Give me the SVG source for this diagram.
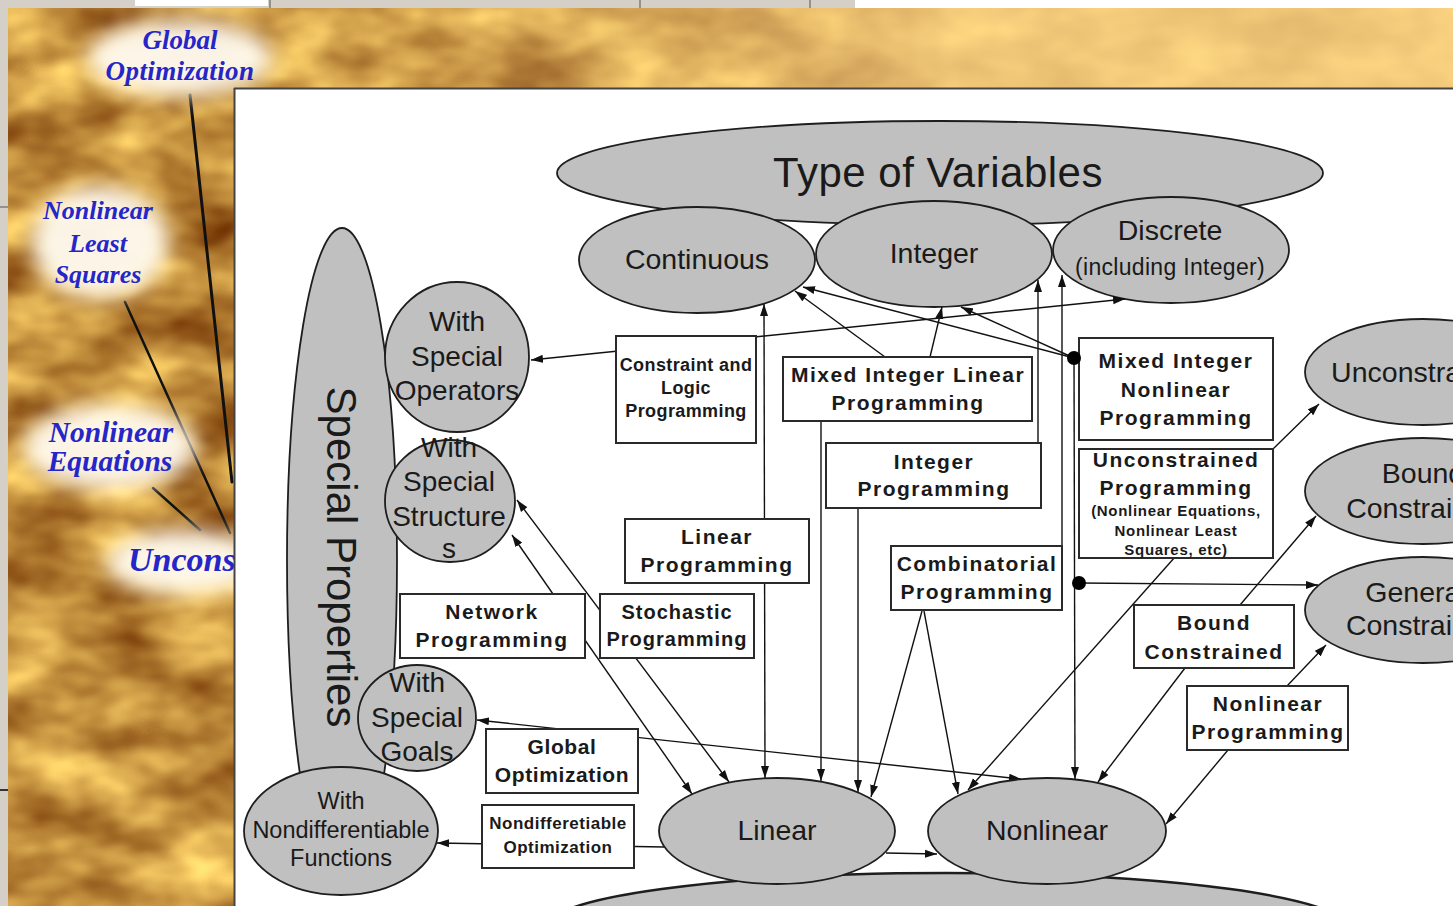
<svg xmlns="http://www.w3.org/2000/svg" width="1453" height="906" viewBox="0 0 1453 906">
<defs>
<style>
.el{fill:#c0c0c0;stroke:#1e1e1e;stroke-width:1.8}
.bx{fill:#ffffff;stroke:#2a2a2a;stroke-width:2}
.t{font-family:"Liberation Sans",Arial,sans-serif;fill:#1a1a1a;text-anchor:middle}
.e28{font-size:28.5px}
.b{font-family:"Liberation Sans",Arial,sans-serif;font-weight:bold;fill:#1a1a1a;text-anchor:middle}
.b21{font-size:21px;letter-spacing:1.5px}
.c{stroke:#111;stroke-width:1.4;fill:none}
.lbl{font-family:"Liberation Serif","Times New Roman",serif;font-style:italic;font-weight:bold;fill:#2626c8}
.pen{stroke:#111;fill:none;stroke-linecap:round}
</style>
<marker id="ah" markerUnits="userSpaceOnUse" markerWidth="13" markerHeight="9" refX="12" refY="4.5" orient="auto-start-reverse" viewBox="0 0 13 9"><path d="M0,0.5 L12,4.5 L0,8.5 z" fill="#111"/></marker>
<filter id="tex" x="0" y="0" width="100%" height="100%" color-interpolation-filters="sRGB">
<feTurbulence type="fractalNoise" baseFrequency="0.012 0.02" numOctaves="3" seed="11" result="n"/>
<feColorMatrix in="n" type="matrix" values="0.75 0 0 0 0.39  0.85 0 0 0 0.14  0.55 0 0 0 -0.03  0 0 0 0 1"/>
</filter>
<filter id="blur" x="-50%" y="-50%" width="200%" height="200%"><feGaussianBlur stdDeviation="10"/></filter>
<linearGradient id="band" x1="0" y1="0" x2="1" y2="0">
<stop offset="0" stop-color="#ffd98a" stop-opacity="0"/>
<stop offset="0.28" stop-color="#ffd98a" stop-opacity="0.1"/>
<stop offset="0.5" stop-color="#ffd98a" stop-opacity="0.45"/>
<stop offset="0.65" stop-color="#ffd98a" stop-opacity="0.75"/>
<stop offset="1" stop-color="#ffd98a" stop-opacity="0.8"/>
</linearGradient>
</defs>

<g id="background">
<rect x="0" y="0" width="1453" height="906" fill="#d4d0c8"/>
<rect x="855" y="0" width="598" height="8" fill="#ffffff"/>
<rect x="135" y="0" width="133" height="6" fill="#ffffff"/>
<line x1="270" y1="0" x2="270" y2="8" stroke="#555" stroke-width="1"/>
<line x1="640" y1="0" x2="640" y2="8" stroke="#555" stroke-width="1"/>
<line x1="810" y1="0" x2="810" y2="8" stroke="#555" stroke-width="1"/>
<line x1="0" y1="207" x2="8" y2="207" stroke="#555" stroke-width="1"/>
<line x1="0" y1="790" x2="8" y2="790" stroke="#333" stroke-width="2"/>
<rect x="8" y="8" width="1445" height="898" filter="url(#tex)"/>
<rect x="8" y="8" width="1445" height="82" fill="url(#band)"/>
<line x1="190" y1="95" x2="232" y2="482" class="pen" stroke-width="3"/>
<line x1="125" y1="302" x2="230" y2="533" class="pen" stroke-width="2.5"/>
<line x1="153" y1="488" x2="200" y2="530" class="pen" stroke-width="2.5"/>
<g filter="url(#blur)" fill="#fffaf0" opacity="0.95">
<ellipse cx="180" cy="58" rx="92" ry="38"/>
<ellipse cx="100" cy="242" rx="68" ry="56"/>
<ellipse cx="110" cy="447" rx="86" ry="42"/>
<ellipse cx="184" cy="562" rx="78" ry="32"/>
</g>
<text class="lbl" style="font-size:27px;text-anchor:middle" x="180" y="49">Global</text>
<text class="lbl" style="font-size:27px;text-anchor:middle;letter-spacing:0.4px" x="180" y="80">Optimization</text>
<text class="lbl" style="font-size:26px;text-anchor:middle" x="98" y="219">Nonlinear</text>
<text class="lbl" style="font-size:26px;text-anchor:middle" x="98" y="252">Least</text>
<text class="lbl" style="font-size:26px;text-anchor:middle" x="98" y="283">Squares</text>
<text class="lbl" style="font-size:29.5px;text-anchor:middle" x="111" y="442">Nonlinear</text>
<text class="lbl" style="font-size:29.5px;text-anchor:middle" x="110" y="471">Equations</text>
<text class="lbl" style="font-size:34px;text-anchor:start" x="128" y="571">Uncons</text>
</g>

<g id="panel">
<rect x="234" y="88" width="1219" height="818" fill="#ffffff"/>
<line x1="234" y1="88.5" x2="1453" y2="88.5" stroke="#444" stroke-width="2"/>
<line x1="234.5" y1="88" x2="234.5" y2="906" stroke="#444" stroke-width="2"/>
</g>

<g id="type-of-variables">
<ellipse class="el" cx="940" cy="173" rx="383" ry="52" stroke-width="2.5"/>
<text class="t" x="938" y="187" style="font-size:42px;letter-spacing:0.5px">Type of Variables</text>
</g>
<g id="bottom-ellipse">
<ellipse class="el" cx="946" cy="928" rx="402" ry="55" style="stroke-width:2.5"/>
</g>
<g id="special-properties">
<ellipse class="el" cx="342" cy="560" rx="55" ry="332"/>
<text class="t" transform="translate(327,557) rotate(90)" style="font-size:42px">Special Properties</text>
</g>
<g id="continuous">
<ellipse class="el" cx="697" cy="260" rx="118" ry="53"/>
<text class="t e28" x="697" y="269">Continuous</text>
</g>
<g id="integer">
<ellipse class="el" cx="934" cy="254" rx="118" ry="53"/>
<text class="t e28" x="934" y="263">Integer</text>
</g>
<g id="discrete">
<ellipse class="el" cx="1171" cy="250" rx="118" ry="53"/>
<text class="t e28" x="1170" y="240">Discrete</text>
<text class="t" x="1170" y="275" style="font-size:23px;letter-spacing:0.3px">(including Integer)</text>
</g>

<g id="connectors" class="c">
<path d="M531,360 L1125,299" marker-start="url(#ah)" marker-end="url(#ah)"/>
<path d="M764,304 L765,778" marker-start="url(#ah)" marker-end="url(#ah)"/>
<path d="M885,357 L795,291" marker-end="url(#ah)"/>
<path d="M930,357 L942,307" marker-end="url(#ah)"/>
<path d="M821,421 L821,781" marker-end="url(#ah)"/>
<path d="M1074,358 L803,287" marker-end="url(#ah)"/>
<path d="M1074,358 L961,307" marker-end="url(#ah)"/>
<path d="M1038,443 L1038,280" marker-end="url(#ah)"/>
<path d="M858,508 L858,792" marker-end="url(#ah)"/>
<path d="M1062,546 L1062,275" marker-end="url(#ah)"/>
<path d="M922,611 L871,797" marker-end="url(#ah)"/>
<path d="M924,611 L958,794" marker-end="url(#ah)"/>
<path d="M1074,358 L1075,779" marker-end="url(#ah)"/>
<path d="M1079,583 L1318,585" marker-end="url(#ah)"/>
<path d="M1273,449 L1319,404" marker-end="url(#ah)"/>
<path d="M1175,557 L968,790" marker-end="url(#ah)"/>
<path d="M1240,605 L1316,516" marker-end="url(#ah)"/>
<path d="M1185,668 L1098,782" marker-end="url(#ah)"/>
<path d="M1287,686 L1326,645" marker-end="url(#ah)"/>
<path d="M1228,750 L1166,824" marker-end="url(#ah)"/>
<path d="M512,535 L692,794" marker-start="url(#ah)" marker-end="url(#ah)"/>
<path d="M517,500 L729,782" marker-start="url(#ah)" marker-end="url(#ah)"/>
<path d="M477,720 L1021,779" marker-start="url(#ah)" marker-end="url(#ah)"/>
<path d="M664,847 L437,843" marker-end="url(#ah)"/>
<path d="M886,853 L937,854" marker-end="url(#ah)"/>
</g>

<g id="with-special-operators">
<ellipse class="el" cx="457" cy="357" rx="72" ry="75"/>
</g>
<g id="with-special-structures">
<ellipse class="el" cx="450" cy="501" rx="65" ry="61"/>
</g>
<g id="with-special-operators-text">
<text class="t" style="font-size:28px" x="457" y="331">With</text>
<text class="t" style="font-size:28px" x="457" y="366">Special</text>
<text class="t" style="font-size:28px" x="457" y="400">Operators</text>
</g>
<g id="with-special-structures-text">
<text class="t" style="font-size:28px" x="449" y="457">With</text>
<text class="t" style="font-size:28px" x="449" y="491">Special</text>
<text class="t" style="font-size:28px" x="449" y="526">Structure</text>
<text class="t" style="font-size:28px" x="449" y="558">s</text>
</g>
<g id="with-special-goals">
<ellipse class="el" cx="417" cy="718" rx="59" ry="53"/>
<text class="t" style="font-size:28px" x="417" y="692">With</text>
<text class="t" style="font-size:28px" x="417" y="727">Special</text>
<text class="t" style="font-size:28px" x="417" y="761">Goals</text>
</g>
<g id="with-nondifferentiable-functions">
<ellipse class="el" cx="341" cy="831" rx="97" ry="64"/>
<text class="t" style="font-size:23.5px" x="341" y="809">With</text>
<text class="t" style="font-size:23.5px" x="341" y="838">Nondifferentiable</text>
<text class="t" style="font-size:23.5px" x="341" y="866">Functions</text>
</g>
<g id="linear">
<ellipse class="el" cx="777" cy="831" rx="118" ry="53"/>
<text class="t e28" x="777" y="840">Linear</text>
</g>
<g id="nonlinear">
<ellipse class="el" cx="1047" cy="831" rx="119" ry="53"/>
<text class="t e28" x="1047" y="840">Nonlinear</text>
</g>
<g id="unconstrained">
<ellipse class="el" cx="1423" cy="372" rx="118" ry="53"/>
<text class="t e28" x="1423" y="382">Unconstrained</text>
</g>
<g id="bound-constrained">
<ellipse class="el" cx="1423" cy="491" rx="118" ry="53"/>
<text class="t e28" x="1423" y="483">Bound</text>
<text class="t e28" x="1423" y="518">Constrained</text>
</g>
<g id="general-constraints">
<ellipse class="el" cx="1423" cy="610" rx="118" ry="53"/>
<text class="t e28" x="1416" y="602">General</text>
<text class="t e28" x="1418" y="635">Constraints</text>
</g>

<g id="constraint-logic-programming">
<rect class="bx" x="616" y="336" width="140" height="107"/>
<text class="b" x="686" y="371" style="font-size:18px;letter-spacing:0.4px">Constraint and</text>
<text class="b" x="686" y="394" style="font-size:18px;letter-spacing:0.4px">Logic</text>
<text class="b" x="686" y="417" style="font-size:18px;letter-spacing:0.4px">Programming</text>
</g>
<g id="mixed-integer-linear-programming">
<rect class="bx" x="783" y="357" width="249" height="64"/>
<text class="b b21" x="908" y="382">Mixed Integer Linear</text>
<text class="b b21" x="908" y="410">Programming</text>
</g>
<g id="mixed-integer-nonlinear-programming">
<rect class="bx" x="1079" y="338" width="194" height="102"/>
<text class="b b21" x="1176" y="368">Mixed Integer</text>
<text class="b b21" x="1176" y="397">Nonlinear</text>
<text class="b b21" x="1176" y="425">Programming</text>
</g>
<g id="integer-programming">
<rect class="bx" x="826" y="443" width="215" height="65"/>
<text class="b b21" x="934" y="469">Integer</text>
<text class="b b21" x="934" y="496">Programming</text>
</g>
<g id="unconstrained-programming">
<rect class="bx" x="1079" y="449" width="194" height="109"/>
<text class="b b21" x="1176" y="467">Unconstrained</text>
<text class="b b21" x="1176" y="495">Programming</text>
<text class="b" x="1176" y="516" style="font-size:15px;letter-spacing:0.7px">(Nonlinear Equations,</text>
<text class="b" x="1176" y="536" style="font-size:15px;letter-spacing:0.7px">Nonlinear Least</text>
<text class="b" x="1176" y="555" style="font-size:15px;letter-spacing:0.7px">Squares, etc)</text>
</g>
<g id="linear-programming">
<rect class="bx" x="625" y="519" width="184" height="64"/>
<text class="b b21" x="717" y="544">Linear</text>
<text class="b b21" x="717" y="572">Programming</text>
</g>
<g id="combinatorial-programming">
<rect class="bx" x="891" y="546" width="171" height="64"/>
<text class="b b21" x="977" y="571">Combinatorial</text>
<text class="b b21" x="977" y="599">Programming</text>
</g>
<g id="network-programming">
<rect class="bx" x="400" y="594" width="185" height="64"/>
<text class="b b21" x="492" y="619">Network</text>
<text class="b b21" x="492" y="647">Programming</text>
</g>
<g id="stochastic-programming">
<rect class="bx" x="600" y="594" width="154" height="64"/>
<text class="b" x="677" y="619" style="font-size:20px;letter-spacing:1px">Stochastic</text>
<text class="b" x="677" y="646" style="font-size:20px;letter-spacing:1px">Programming</text>
</g>
<g id="bound-constrained-box">
<rect class="bx" x="1134" y="605" width="160" height="63"/>
<text class="b b21" x="1214" y="630">Bound</text>
<text class="b b21" x="1214" y="659">Constrained</text>
</g>
<g id="nonlinear-programming">
<rect class="bx" x="1187" y="686" width="161" height="64"/>
<text class="b b21" x="1268" y="711">Nonlinear</text>
<text class="b b21" x="1268" y="739">Programming</text>
</g>
<g id="global-optimization">
<rect class="bx" x="486" y="729" width="152" height="64"/>
<text class="b" x="562" y="754" style="font-size:21px;letter-spacing:0.6px">Global</text>
<text class="b" x="562" y="782" style="font-size:21px;letter-spacing:0.6px">Optimization</text>
</g>
<g id="nondifferetiable-optimization">
<rect class="bx" x="482" y="805" width="152" height="63"/>
<text class="b" x="558" y="829" style="font-size:17px;letter-spacing:0.5px">Nondifferetiable</text>
<text class="b" x="558" y="853" style="font-size:17px;letter-spacing:0.5px">Optimization</text>
</g>

<g id="junctions" fill="#000">
<circle cx="1074" cy="358" r="7"/>
<circle cx="1079" cy="583" r="7"/>
</g>
</svg>
